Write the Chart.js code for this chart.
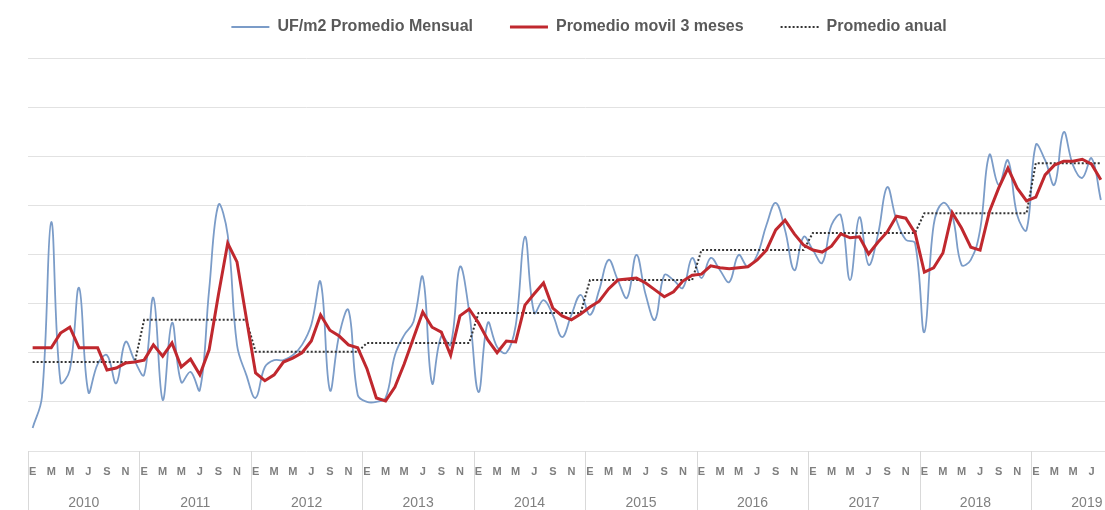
<!DOCTYPE html>
<html>
<head>
<meta charset="utf-8">
<script src="https://cdn.jsdelivr.net/npm/chart.js@4/dist/chart.umd.min.js"></script>
<style>
  html, body { margin: 0; padding: 0; background: #fff; overflow: hidden; }
  #wrap { width: 1152px; height: 510px; }
</style>
</head>
<body>
<div id="wrap"><canvas id="chart" width="1152" height="510"></canvas></div>
<script>
// Years and month initials (Spanish) for the two-level category axis
const years = ['2010', '2011', '2012', '2013', '2014', '2015', '2016', '2017', '2018', '2019'];
const monthLetters = ['E', 'F', 'M', 'A', 'M', 'J', 'J', 'A', 'S', 'O', 'N', 'D'];

// Horizontal gridline values (the y labels are cropped off in the picture)
const gridValues = [0, 10, 20, 30, 40, 50, 60, 70, 80];

// UF/m2 promedio mensual (Jan 2010 .. Aug 2019)
const monthlyValues = [
    4.7, 11.0, 46.6, 14.0, 16.5, 33.2, 12.0, 17.7, 19.5, 13.8, 22.2, 18.3,
    15.5, 31.2, 10.4, 26.1, 14.0, 16.1, 12.4, 32.8, 50.1, 44.0, 21.6, 15.5,
    10.8, 17.1, 18.5, 18.5, 19.5, 21.6, 25.7, 34.4, 12.4, 23.6, 28.7, 11.4,
    10.0, 10.0, 10.8, 19.5, 23.6, 26.3, 35.4, 13.8, 23.4, 21.6, 37.5, 28.3,
    12.0, 26.1, 21.2, 20.0, 25.5, 43.6, 28.1, 30.7, 27.7, 23.2, 27.7, 31.8,
    27.7, 32.8, 38.9, 34.8, 31.2, 39.9, 31.8, 26.7, 35.8, 34.8, 33.2, 39.3,
    35.2, 39.3, 36.8, 34.4, 39.9, 37.5, 39.9, 46.0, 50.5, 45.0, 36.8, 43.6,
    40.9, 38.3, 46.0, 48.0, 34.8, 47.6, 37.9, 44.0, 53.7, 47.0, 43.0, 42.3,
    24.2, 46.0, 50.5, 48.0, 37.9, 38.9, 45.0, 60.3, 54.2, 59.2, 48.0, 45.0,
    62.3, 59.2, 54.2, 64.9, 58.2, 55.6, 59.6, 51.1
];

// Promedio movil 3 meses
const movingValues = [
    21.0, 21.0, 21.0, 24.0, 25.2, 21.0, 21.0, 21.0, 16.5, 16.9, 17.9, 18.1,
    18.5, 21.6, 19.3, 22.0, 17.1, 18.7, 15.5, 20.6, 31.8, 42.3, 38.5, 27.1,
    15.9, 14.3, 15.5, 18.1, 18.9, 20.0, 22.4, 27.7, 24.6, 23.4, 21.6, 21.0,
    16.7, 10.8, 10.2, 13.0, 17.7, 23.0, 28.3, 25.2, 24.2, 19.5, 27.5, 28.9,
    26.1, 22.6, 20.0, 22.4, 22.2, 29.7, 32.0, 34.2, 29.1, 27.5, 26.7, 27.9,
    29.3, 30.5, 33.0, 34.8, 35.0, 35.2, 34.2, 32.8, 31.4, 32.4, 34.6, 35.8,
    36.0, 37.7, 37.3, 37.1, 37.3, 37.5, 38.9, 40.9, 45.0, 47.0, 44.2, 41.9,
    40.9, 40.5, 41.7, 44.2, 43.4, 43.6, 40.1, 42.5, 44.6, 47.8, 47.4, 44.4,
    36.4, 37.3, 40.3, 48.5, 45.4, 41.5, 40.9, 48.7, 53.5, 57.6, 53.5, 50.9,
    51.7, 56.2, 58.2, 59.0, 59.0, 59.4, 58.4, 55.2
];

// Promedio anual, one value per year
const annualValues = [18.1, 26.7, 20.2, 22.0, 28.1, 34.8, 40.9, 44.4, 48.4, 58.6];

// Category labels: every month of every year
const labels = [];
years.forEach(y => monthLetters.forEach((m, i) => labels.push(m + '-' + y + '-' + i)));

// Annual average repeated on each month of its year
const annualMonthly = monthlyValues.map((v, i) => annualValues[Math.floor(i / 12)]);

// Vertical separators between years under the plot
const yearSeparators = {
    id: 'yearSeparators',
    afterDraw(chart) {
        const x = chart.scales.x;
        const ctx = chart.ctx;
        const half = (x.getPixelForValue(1) - x.getPixelForValue(0)) / 2;
        ctx.save();
        ctx.strokeStyle = '#d9d9d9';
        ctx.lineWidth = 1;
        for (let k = 0; k <= years.length; k++) {
            const px = Math.round(x.getPixelForValue(k * 12) - half) + 0.5;
            ctx.beginPath();
            ctx.moveTo(px, chart.chartArea.bottom);
            ctx.lineTo(px, chart.height);
            ctx.stroke();
        }
        ctx.restore();
    }
};

const ctx = document.getElementById('chart').getContext('2d');
new Chart(ctx, {
    type: 'line',
    data: {
        labels: labels,
        datasets: [
            {
                label: 'UF/m2 Promedio Mensual',
                data: monthlyValues,
                borderColor: '#7b9cc8',
                borderWidth: 1.8,
                tension: 0.4,
                pointRadius: 0,
                order: 3
            },
            {
                label: 'Promedio movil 3 meses',
                data: movingValues,
                borderColor: '#c0282e',
                borderWidth: 3,
                tension: 0,
                pointRadius: 0,
                order: 1
            },
            {
                label: 'Promedio anual',
                data: annualMonthly,
                borderColor: '#333333',
                borderWidth: 2,
                borderDash: [2, 2],
                tension: 0,
                pointRadius: 0,
                order: 2
            }
        ]
    },
    options: {
        responsive: false,
        animation: false,
        layout: { padding: { top: -18, left: 28, right: 2, bottom: 0 } },
        plugins: {
            tooltip: { enabled: false },
            legend: {
                position: 'top',
                labels: {
                    usePointStyle: true,
                    pointStyle: 'line',
                    pointStyleWidth: 38,
                    padding: 37,
                    color: '#595959',
                    font: { family: 'Liberation Sans', size: 16, weight: 'bold' },
                    sort: (a, b) => a.datasetIndex - b.datasetIndex,
                    generateLabels: (chart) => {
                        const items = Chart.defaults.plugins.legend.labels.generateLabels(chart);
                        items.forEach(item => {
                            const ds = chart.data.datasets[item.datasetIndex];
                            item.lineDash = ds.borderDash || [];
                            item.lineWidth = ds.borderWidth;
                            item.strokeStyle = ds.borderColor;
                        });
                        return items;
                    }
                }
            }
        },
        scales: {
            x: {
                type: 'category',
                position: 'bottom',
                weight: 1,
                offset: true,
                grid: { display: false, drawTicks: false },
                border: { display: false },
                afterFit: (s) => { s.height = 27; },
                ticks: {
                    autoSkip: false,
                    maxRotation: 0,
                    minRotation: 0,
                    padding: 14,
                    color: '#7f7f7f',
                    font: { family: 'Liberation Sans', size: 11, weight: 'bold' },
                    callback: (value, index) => index % 2 === 0 ? monthLetters[index % 12] : ''
                }
            },
            years: {
                type: 'category',
                position: 'bottom',
                weight: 2,
                labels: years,
                offset: true,
                grid: { display: false, drawTicks: false },
                border: { display: false },
                afterFit: (s) => { s.height = 32; },
                ticks: {
                    autoSkip: false,
                    maxRotation: 0,
                    padding: 17,
                    color: '#7f7f7f',
                    font: { family: 'Liberation Sans', size: 14 }
                }
            },
            y: {
                min: 0,
                max: 82.65,
                afterBuildTicks: (s) => { s.ticks = gridValues.map(v => ({ value: v })); },
                ticks: { display: false },
                border: { display: false },
                grid: { color: '#e2e2e2', drawTicks: false }
            }
        }
    },
    plugins: [yearSeparators]
});
</script>
</body>
</html>
